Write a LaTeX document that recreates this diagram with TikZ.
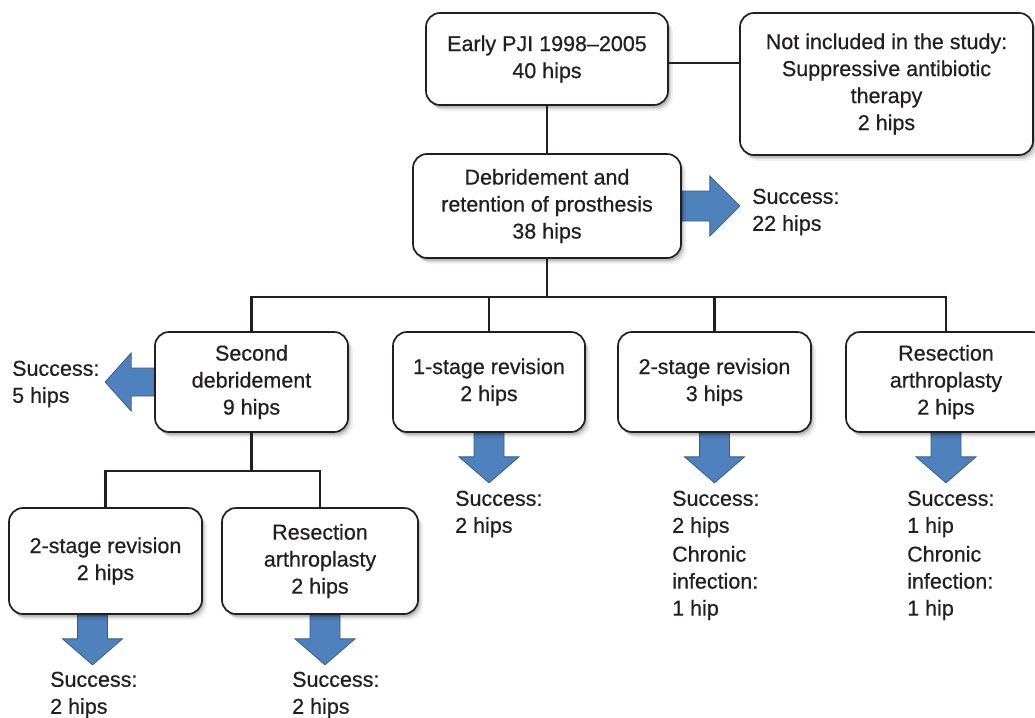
\documentclass[tikz,border=0pt]{standalone}
\usepackage{fontspec}
\setmainfont{Liberation Sans}[FakeBold=0.5]
\usetikzlibrary{shadows,backgrounds}
\definecolor{ink}{RGB}{35,31,32}
\definecolor{arrowblue}{RGB}{79,129,189}
\definecolor{arrowedge}{RGB}{56,93,138}
\newcommand{\boxfont}{\fontsize{21.5}{27}\selectfont}
\begin{document}
\begin{tikzpicture}[x=1pt,y=-1pt,
  box/.style={draw=ink,line width=1.7pt,rounded corners=14pt,fill=white,align=center,inner sep=0pt,font=\boxfont,text=ink,
    drop shadow={shadow xshift=5pt,shadow yshift=-6pt,fill=black,opacity=0.06},
    drop shadow={shadow xshift=3pt,shadow yshift=-4pt,fill=black,opacity=0.10},
    drop shadow={shadow xshift=1.5pt,shadow yshift=-2.5pt,fill=black,opacity=0.14}},
  conn/.style={draw=ink,line width=2.6pt},
  lbl/.style={font=\boxfont,text=ink,align=left,anchor=west,inner sep=0pt},
  barrow/.style={fill=arrowblue,draw=arrowedge,line width=0.8pt,line join=miter},
  downarr/.pic={\filldraw[barrow] (-15,0) -- (-15,24) -- (-30,24) -- (0,50) -- (30,24) -- (15,24) -- (15,0) -- cycle;}]
\useasboundingbox (0,0) rectangle (1035,717);

% boxes
\node[box,minimum width=242pt,minimum height=92pt] (A) at (547,59) {Early PJI 1998--2005\\40 hips};
\node[box,minimum width=293pt,minimum height=142pt] (B) at (886.5,84) {Not included in the study:\\Suppressive antibiotic\\therapy\\2 hips};
\node[box,minimum width=268pt,minimum height=104pt] (C) at (547,206) {Debridement and\\retention of prosthesis\\38 hips};
\node[box,minimum width=193pt,minimum height=100pt] (D) at (251.5,382) {Second\\debridement\\9 hips};
\node[box,minimum width=192pt,minimum height=100pt] (E) at (489,382) {1-stage revision\\2 hips};
\node[box,minimum width=193pt,minimum height=100pt] (F) at (714.5,382) {2-stage revision\\3 hips};
\node[box,minimum width=200pt,minimum height=100pt] (G) at (946,382) {Resection\\arthroplasty\\2 hips};
\node[box,minimum width=193pt,minimum height=106pt] (H) at (105.5,561) {2-stage revision\\2 hips};
\node[box,minimum width=196pt,minimum height=106pt] (I) at (320,561) {Resection\\arthroplasty\\2 hips};

% connectors
\draw[conn] (A.south) -- (C.north);
\draw[conn] ([yshift=-4pt]A.east) -- ([yshift=-4pt]A.east -| B.west);
\draw[conn] (C.south) -- ++(0,38) coordinate (bus);
\draw[conn] (D.north) |- (bus) -| (G.north);
\draw[conn] (E.north) -- (E.north |- bus);
\draw[conn] (F.north) -- (F.north |- bus);
\draw[conn] (D.south) -- ++(0,38) coordinate (dbus);
\draw[conn] (H.north) |- (dbus) -| (I.north);

% outcome labels
\node[lbl] (s22) at (752,212) {Success:\\22 hips};
\node[lbl] (s5) at (12,384) {Success:\\5 hips};
\node[lbl] (sE) at (455,514) {Success:\\2 hips};
\node[lbl] (sF) at (672,514) {Success:\\2 hips};
\node[lbl] (cF) at (672,583) {Chronic\\infection:\\1 hip};
\node[lbl] (sG) at (907,514) {Success:\\1 hip};
\node[lbl] (cG) at (907,583) {Chronic\\infection:\\1 hip};
\node[lbl] (sH) at (50,695) {Success:\\2 hips};
\node[lbl] (sI) at (292,695) {Success:\\2 hips};

% block arrows and background
\begin{scope}[on background layer]
\fill[white] (0,0) rectangle (1035,717);
\filldraw[barrow] ([yshift=15pt]C.east) -- ++(28,0) -- ++(0,-15) -- ++(30,30) -- ++(-30,30) -- ++(0,-15) -- ++(-28,0) -- cycle;
\filldraw[barrow] ([yshift=14pt]D.west) -- ++(-23,0) -- ++(0,-15) -- ++(-26,29) -- ++(26,29) -- ++(0,-15) -- ++(23,0) -- cycle;
\pic at (E.south) {downarr};
\pic at (F.south) {downarr};
\pic at (G.south) {downarr};
\pic at ([xshift=-13pt]H.south) {downarr};
\pic at ([xshift=5pt]I.south) {downarr};
\end{scope}
\end{tikzpicture}
\end{document}
